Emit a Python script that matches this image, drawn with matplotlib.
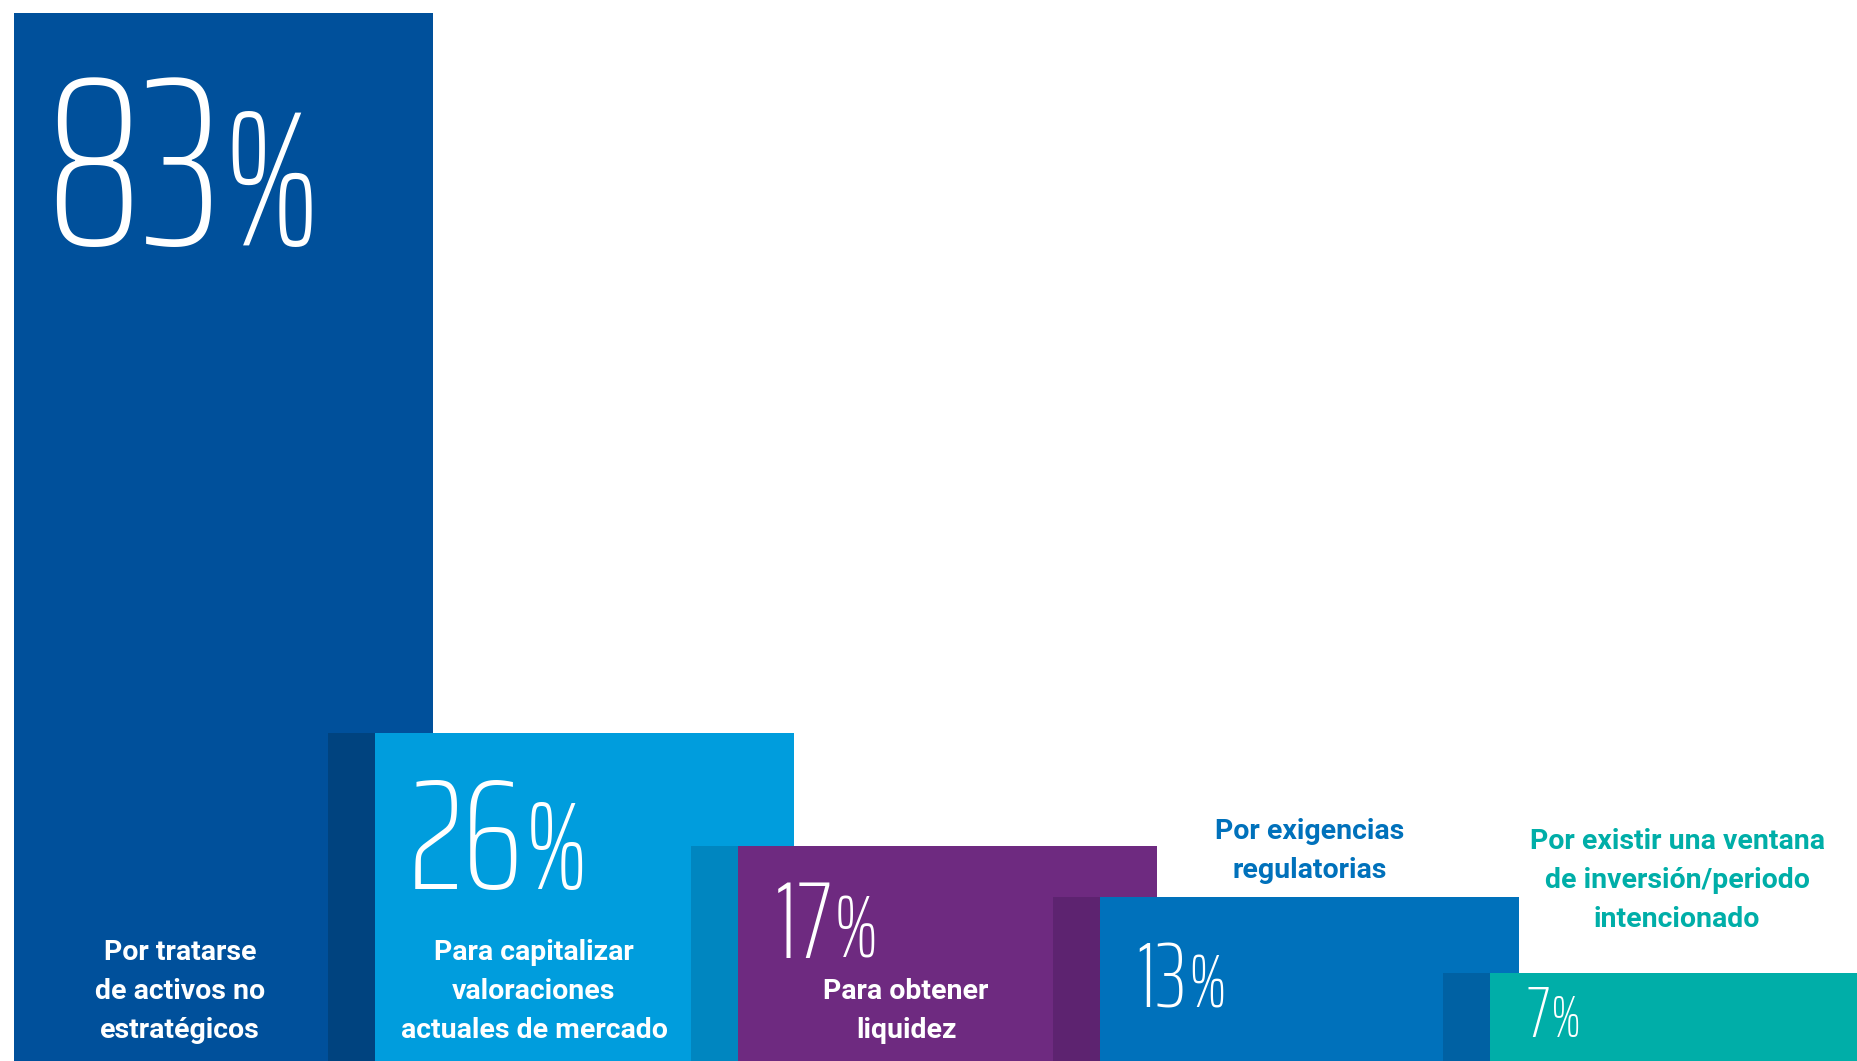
import matplotlib
matplotlib.use('Agg')
import matplotlib.pyplot as plt

# Motivos de desinversión y porcentaje de respuestas
motivos = [
    'Por tratarse\nde activos no\nestratégicos',
    'Para capitalizar\nvaloraciones\nactuales de mercado',
    'Para obtener\nliquidez',
    'Por exigencias\nregulatorias',
    'Por existir una ventana\nde inversión/periodo\nintencionado',
]
porcentajes = [83, 26, 17, 13, 7]

# estilo de cada escalón
bar_colors = ['#00509B', '#009DDD', '#6E2A80', '#0071BB', '#00AEA8']
shade_colors = ['#00437F', '#0086C0', '#5D2370', '#0061A3']
text_colors = ['white', 'white', 'white', '#0071BB', '#00AEA8']
num_sizes = [174, 112, 79, 67, 53]

W, H = 1857, 1061
DPI = 100
YTOP = 84.03

# posiciones en píxeles del lienzo
bar_left = [14, 375, 738, 1100, 1490]
bar_width = 419
shade_width = 47
num_x = [45, 409, 775, 1136, 1526]
num_base = [245, 889, 958, 1008, 1037]
label_x = [180, 534, 906, 1310, 1677]
label_last = [1038, 1038, 1038, 878, 927]   # línea base de la última línea

NUM_FONT = ['Saira ExtraCondensed', 'DejaVu Sans']
LABEL_FONT = ['Roboto', 'DejaVu Sans']


def py(y_px):
    # pixel vertical (desde arriba) -> unidades de datos
    return (H - y_px) / H * YTOP


fig = plt.figure(figsize=(W / DPI, H / DPI), dpi=DPI)
ax = fig.add_axes([0, 0, 1, 1])
ax.set_xlim(0, W)
ax.set_ylim(0, YTOP)
ax.axis('off')

ax.bar(bar_left, porcentajes, width=bar_width, align='edge',
       color=bar_colors, linewidth=0, zorder=1)
ax.bar([x - shade_width for x in bar_left[1:]], porcentajes[1:], width=shade_width,
       align='edge', color=shade_colors, linewidth=0, zorder=2)

num_texts = []
for i, v in enumerate(porcentajes):
    t = ax.text(num_x[i], py(num_base[i]), str(v), color='white',
                fontsize=num_sizes[i], family=NUM_FONT, fontweight=250,
                ha='left', va='baseline', zorder=3)
    num_texts.append(t)

for i, lab in enumerate(motivos):
    ax.text(label_x[i], py(label_last[i]), lab, color=text_colors[i],
            fontsize=20.5, family=LABEL_FONT, fontweight='bold',
            ha='center', va='baseline', linespacing=1.56, zorder=3)

# el signo % va más pequeño, justo detrás de la cifra
fig.canvas.draw()
renderer = fig.canvas.get_renderer()
for i, t in enumerate(num_texts):
    bb = t.get_window_extent(renderer)
    ax.text(bb.x1 + 1, py(num_base[i]), '%', color='white',
            fontsize=num_sizes[i] * 0.8, family=NUM_FONT, fontweight=250,
            ha='left', va='baseline', zorder=3)

fig.savefig('out.png', dpi=DPI, facecolor='white')
